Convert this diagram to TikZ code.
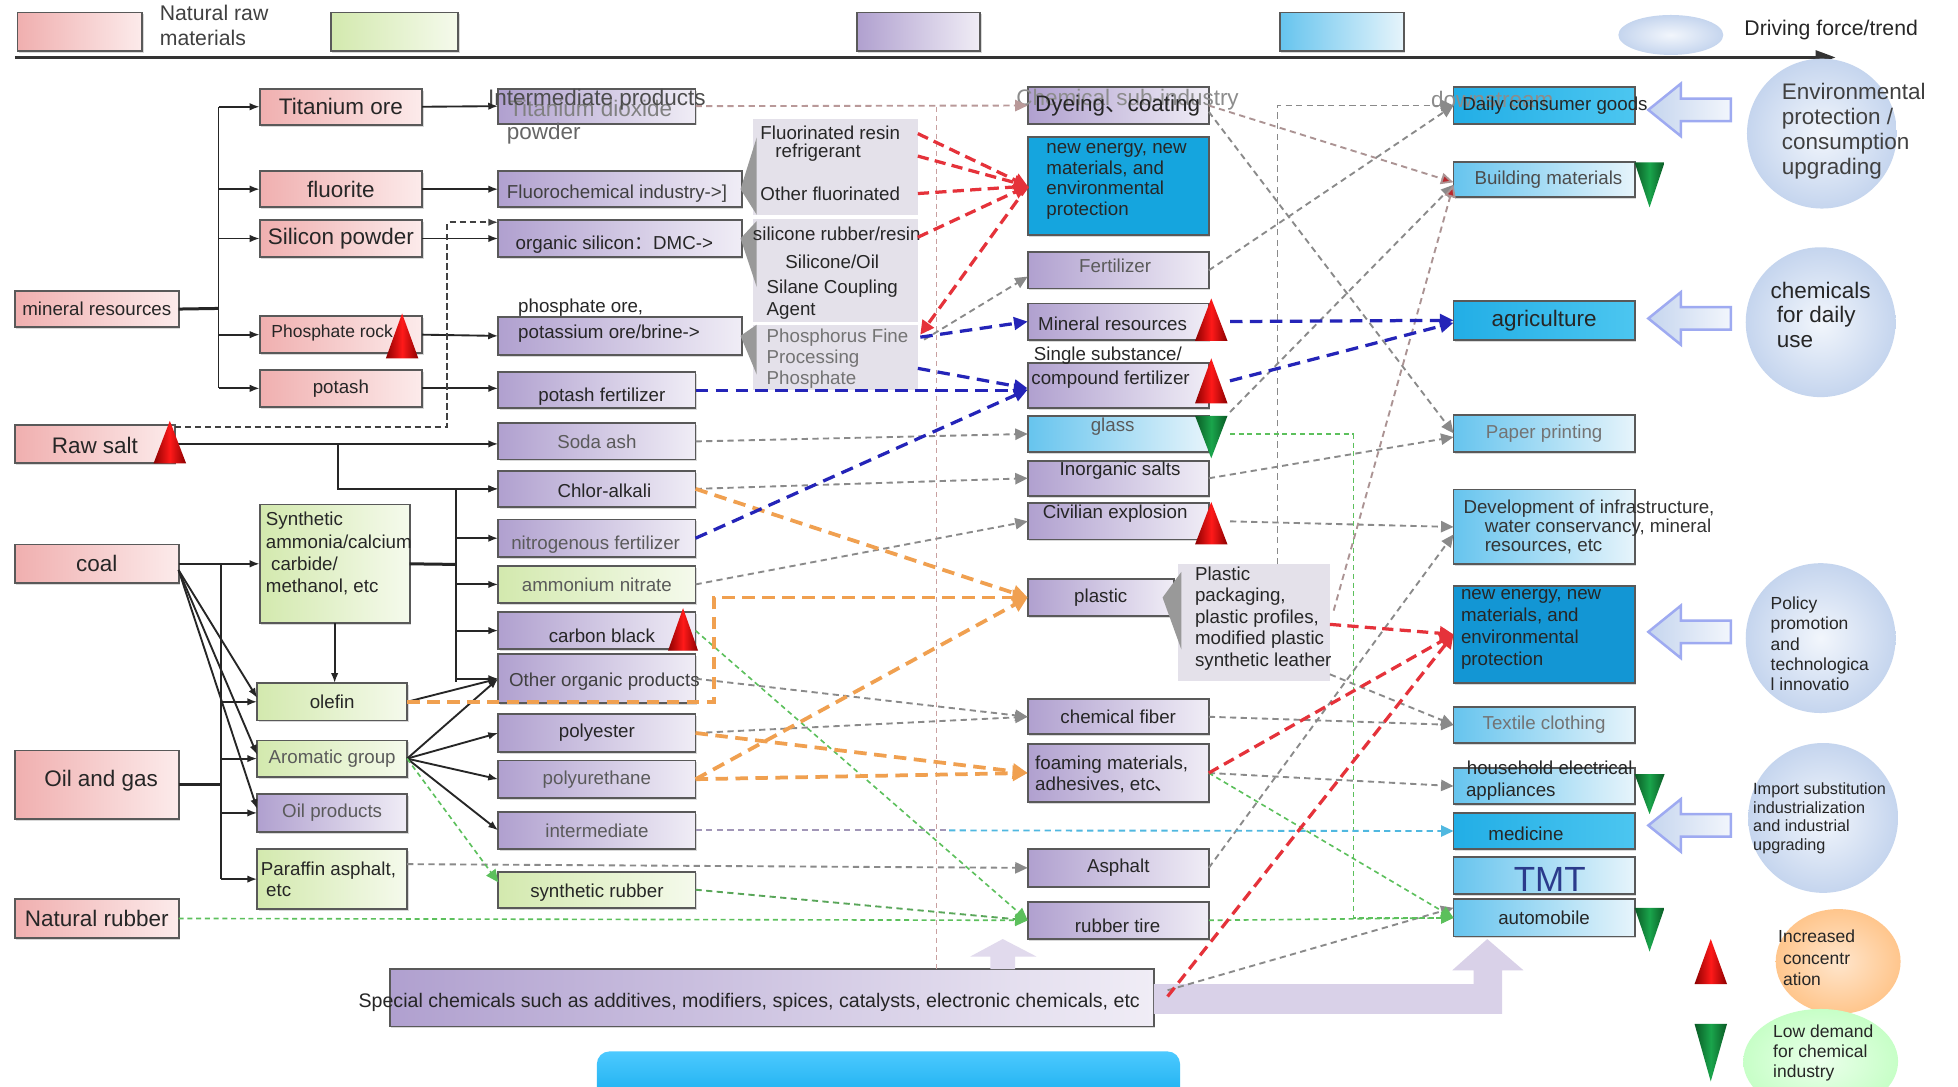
\documentclass[tikz,border=0pt]{standalone}
\usepackage{fontspec}
\setmainfont{Liberation Sans}
\newfontfamily\cjk{Noto Sans CJK SC}
\usetikzlibrary{arrows.meta,shadows,calc,shapes.geometric}
\definecolor{pinkL}{HTML}{F0AFAF}
\definecolor{pinkR}{HTML}{FCEBEB}
\definecolor{greenL}{HTML}{D3E9AE}
\definecolor{greenR}{HTML}{F5FAEC}
\definecolor{purpL}{HTML}{B0A0CF}
\definecolor{purpR}{HTML}{F0EDF6}
\definecolor{lblueL}{HTML}{66C4EE}
\definecolor{lblueR}{HTML}{E6F4FB}
\definecolor{bblueL}{HTML}{22AEE6}
\definecolor{bblueR}{HTML}{4CC6F0}
\definecolor{neA}{HTML}{15A5DE}
\definecolor{neB}{HTML}{1396D4}
\definecolor{callF}{HTML}{E4E1EA}
\definecolor{txt}{HTML}{262626}
\definecolor{txtg}{HTML}{5A5A5A}
\definecolor{gdashc}{HTML}{8A8A8A}
\definecolor{rdashc}{HTML}{E5323A}
\definecolor{bdashc}{HTML}{2424B8}
\definecolor{odashc}{HTML}{F0A050}
\definecolor{grdashc}{HTML}{5CC05C}
\definecolor{pkdashc}{HTML}{C8A0A0}
\definecolor{cyandc}{HTML}{50B8E0}
\definecolor{lav}{HTML}{D9D1E8}
\definecolor{circA}{HTML}{F2F6FC}
\definecolor{circB}{HTML}{C5D5EE}
\definecolor{gDark}{HTML}{0A5A25}
\definecolor{gMid}{HTML}{1AA54C}
\definecolor{tmtc}{HTML}{2B3B8C}
\newcommand\mkbox[7]{\node[#6, minimum width={#4pt-#2pt}, minimum height={#5pt-#3pt}] (#1) at ({(#2+#4)/2},{(#3+#5)/2}) {#7};}
\newcommand\rtri[4]{\shade[left color=red!55!black, right color=red!55!black, middle color=red!90!white] (#1,#2) -- ({#1-#4},#3) -- ({#1+#4},#3) -- cycle;}
\newcommand\gtri[4]{\shade[left color=gDark, right color=gDark, middle color=gMid] ({#1-#4},#2) -- ({#1+#4},#2) -- (#1,#3) -- cycle;}
\newcommand\harrow[1]{\shade[left color=circB, right color=circA, draw=circB!80!blue, line width=2pt] (1320,#1) -- (1346,{#1-21}) -- (1346,{#1-9}) -- (1386,{#1-9}) -- (1386,{#1+9}) -- (1346,{#1+9}) -- (1346,{#1+21}) -- cycle;}
\tikzset{
 f13/.style={font=\fontsize{13pt}{14pt}\selectfont},
 f14/.style={font=\fontsize{14pt}{16pt}\selectfont},
 f15/.style={font=\fontsize{15pt}{17pt}\selectfont},
 f17/.style={font=\fontsize{17pt}{20pt}\selectfont},
 f18/.style={font=\fontsize{18pt}{20pt}\selectfont},
 tx/.style={inner sep=0pt, outer sep=0pt, text=txt},
 base/.style={draw=black!65, line width=1.5pt, inner sep=0pt, outer sep=0pt, text=txt,
   drop shadow={shadow xshift=1.2pt, shadow yshift=-1.5pt, opacity=.3}},
 pinkb/.style={base, left color=pinkL, right color=pinkR},
 greenb/.style={base, left color=greenL, right color=greenR},
 purpb/.style={base, left color=purpL, right color=purpR},
 lblueb/.style={base, left color=lblueL, right color=lblueR},
 bblueb/.style={base, left color=bblueL, right color=bblueR},
 ne1b/.style={base, fill=neA},
 ne2b/.style={base, fill=neB},
 callb/.style={fill=callF, draw=none, inner sep=0pt, outer sep=0pt},
 ptr/.style={fill=black!40},
 blk/.style={draw=black!85, line width=1.5pt},
 blka/.style={blk, -{Latex[length=8pt,width=6pt]}},
 gd/.style={draw=gdashc, line width=1.5pt, dash pattern=on 5pt off 3.5pt, -{Triangle[length=10pt,width=9pt]}},
 rd/.style={draw=rdashc, line width=2.6pt, dash pattern=on 9pt off 5pt, -{Triangle[length=11pt,width=11pt]}},
 bd/.style={draw=bdashc, line width=2.6pt, dash pattern=on 10pt off 6pt, -{Triangle[length=11pt,width=10pt]}},
 od/.style={draw=odashc, line width=3pt, dash pattern=on 10pt off 6pt, -{Triangle[length=12pt,width=12pt]}},
 grd/.style={draw=grdashc, line width=1.3pt, dash pattern=on 4pt off 3pt, -{Triangle[length=10pt,width=9pt]}},
}
\begin{document}
\begin{tikzpicture}[x=1pt,y=-1pt]
\useasboundingbox[fill=white] (0,0) rectangle (1568,870);
% ---------- legend ----------
\mkbox{lgA}{14}{10}{114}{41}{pinkb}{}
\node[tx,f17,anchor=north west,align=left,text=black!75] (lgAt) at (128,4) {Natural raw\\materials};
\mkbox{lgB}{265}{10}{367}{41}{greenb}{}
\mkbox{lgC}{686}{10}{785}{41}{purpb}{}
\mkbox{lgD}{1025}{10}{1124}{41}{lblueb}{}
\node[ellipse, inner color=circA, outer color=circB, minimum width=84pt, minimum height=32pt] (lgE) at (1338,28) {};
\node[tx,f17,anchor=west] (lgEt) at (1397,24) {Driving force/trend};
\coordinate (axL) at (12,46); \coordinate (axR) at (1470,46);
\draw[line width=2.5pt, black!80, -{Triangle[length=16pt,width=11pt]}] (axL) -- (axR);
% ---------- circles ----------
\shade[inner color=circA, outer color=circB] (1459,107) circle (60pt);
\shade[inner color=circA, outer color=circB] (1458,258) circle (60pt);
\shade[inner color=circA, outer color=circB] (1458,511) circle (60pt);
\shade[inner color=circA, outer color=circB] (1460,655) circle (60pt);
\shade[inner color=orange!20, outer color=orange!45] (1472,770) ellipse [x radius=50pt, y radius=42pt];
\shade[inner color=green!8, outer color=green!22] (1458,850) ellipse [x radius=62pt, y radius=42pt];
\node[tx,anchor=north west,align=left,text=black!75,font=\fontsize{18pt}{19.8pt}\selectfont] (e1T) at (1427,67) {Environmental\\protection /\\consumption\\upgrading};
\node[tx,anchor=north west,align=left,font=\fontsize{18pt}{19.5pt}\selectfont] (e2T) at (1418,226) {chemicals\\\ for daily\\\ use};
\node[tx,anchor=north west,align=left,font=\fontsize{14pt}{16.3pt}\selectfont] (e3T) at (1418,478) {Policy\\promotion\\and\\technologica\\l innovatio};
\node[tx,anchor=north west,align=left,font=\fontsize{13pt}{14.8pt}\selectfont] (e4T) at (1404,627) {Import substitution\\industrialization\\and industrial\\upgrading};
\node[tx,anchor=north west,align=left,font=\fontsize{14pt}{17pt}\selectfont] (e5T) at (1424,745) {Increased\\\ concentr\\\ ation};
\node[tx,anchor=north west,align=left,font=\fontsize{14pt}{16pt}\selectfont] (e6T) at (1420,821) {Low demand\\for chemical\\industry};
\harrow{88}\harrow{255}\harrow{506}\harrow{661}
% ---------- column 1 ----------
\mkbox{mr}{12}{233}{143}{262}{pinkb,f15}{mineral resources}
\mkbox{rs}{12}{340}{140}{371}{pinkb}{}
\node[tx,f18] (rsT) at (76,357) {Raw salt};
\mkbox{coal}{12}{436}{143}{467}{pinkb,f18}{coal}
\mkbox{og}{12}{601}{143}{656}{pinkb}{}
\node[tx,f18] (ogT) at (81,625) {Oil and gas};
\mkbox{nr}{12}{720}{143}{751}{pinkb,f18}{Natural rubber}
% ---------- column 2 ----------
\mkbox{ti}{208}{71}{338}{100}{pinkb,f18}{Titanium ore}
\mkbox{fl}{208}{137}{338}{166}{pinkb,f18}{fluorite}
\mkbox{si}{208}{176}{338}{206}{pinkb,f18}{Silicon powder}
\mkbox{ph}{208}{253}{338}{283}{pinkb}{}
\node[tx,f14] (phT) at (266,267) {Phosphate rock};
\mkbox{pt}{208}{296}{338}{326}{pinkb,f15}{potash}
\mkbox{sy}{208}{404}{328}{499}{greenb}{}
\node[tx,anchor=north west,align=left,font=\fontsize{15pt}{18pt}\selectfont] (syT) at (213,410) {Synthetic\\ammonia/calcium\\\ carbide/\\methanol, etc};
\mkbox{ol}{206}{547}{326}{577}{greenb,f15}{olefin}
\mkbox{ar}{206}{593}{326}{622}{greenb,f15,text=txtg}{Aromatic group}
\mkbox{op}{206}{636}{326}{666}{purpb,f15,text=txtg}{Oil products}
\mkbox{pa}{206}{680}{326}{728}{greenb}{}
\node[tx,anchor=north west,align=left,font=\fontsize{15pt}{17pt}\selectfont] (paT) at (209,690) {Paraffin asphalt,\\\ etc};
% ---------- column 3 ----------
\mkbox{td}{399}{71}{557}{99}{purpb}{}
\node[tx,f18,text=black!50] (tdT) at (473,87) {Titanium dioxide};
\node[tx,f18,text=black!70] (tdI) at (478,80) {Intermediate products};
\node[tx,f18,text=black!60,anchor=west] (tdP) at (406,107) {powder};
\mkbox{fc}{399}{137}{594}{166}{purpb}{}
\node[tx,f15,anchor=west,text=black!75] (fcT) at (406,155) {Fluorochemical industry->]};
\mkbox{os}{399}{176}{594}{206}{purpb}{}
\node[tx,f15,anchor=west] (osT) at (413,196) {organic silicon{\cjk ：}DMC->};
\mkbox{pp}{399}{254}{594}{284}{purpb}{}
\node[tx,f15,anchor=west] (ppT) at (415,267) {potassium ore/brine->};
\node[tx,f15,anchor=west] (ppA) at (415,246) {phosphate ore,};
\mkbox{pf}{399}{298}{557}{327}{purpb}{}
\node[tx,f15] (pfT) at (482,318) {potash fertilizer};
\mkbox{sa}{399}{339}{557}{368}{purpb,f15,text=txtg}{Soda ash}
\mkbox{ca}{399}{377}{557}{406}{purpb}{}
\node[tx,f15] (caT) at (484,393) {Chlor-alkali};
\mkbox{nf}{399}{416}{557}{446}{purpb}{}
\node[tx,f15,text=txtg] (nfT) at (477,436) {nitrogenous fertilizer};
\mkbox{an}{399}{453}{557}{483}{greenb,f15,text=txtg}{ammonium nitrate}
\mkbox{cb}{399}{490}{557}{520}{purpb}{}
\node[tx,f15] (cbT) at (482,509) {carbon black};
\mkbox{oo}{399}{524}{557}{563}{purpb}{}
\node[tx,f15,text=black!75] (ooT) at (484,546) {Other organic products};
\mkbox{pe}{399}{572}{557}{602}{purpb,f15}{polyester}
\mkbox{pu}{399}{609}{557}{639}{purpb,f15,text=txtg}{polyurethane}
\mkbox{im}{399}{650}{557}{680}{purpb,f15,text=txtg}{intermediate}
\mkbox{sr}{399}{698}{557}{727}{greenb}{}
\node[tx,f15] (srT) at (478,715) {synthetic rubber};
% ---------- callouts ----------
\mkbox{c1}{603}{95}{735}{172}{callb}{}
\fill[ptr] ($(c1.north west)+(3,15)$) -- ($(fc.east)+(-1,0)$) -- ($(c1.south west)+(3,0)$) -- cycle;
\node[tx,f15,anchor=west] (c1a) at (609,106) {Fluorinated resin};
\node[tx,f15,anchor=west] (c1b) at (621,122) {refrigerant};
\node[tx,f15,anchor=west] (c1c) at (609,155) {Other fluorinated};
\mkbox{c2}{603}{175}{735}{258}{callb}{}
\fill[ptr] ($(c2.north west)+(3,2)$) -- ($(os.east)+(-1,0)$) -- ($(c2.north west)+(3,55)$) -- cycle;
\node[tx,f15,anchor=west] (c2a) at (603,187) {silicone rubber/resin};
\node[tx,f15,anchor=west] (c2b) at (629,210) {Silicone/Oil};
\node[tx,f15,anchor=west] (c2c) at (614,231) {Silane Coupling};
\node[tx,f15,anchor=west] (c2d) at (614,249) {Agent};
\mkbox{c3}{603}{260}{735}{312}{callb}{}
\fill[ptr] ($(c3.north west)+(3,0)$) -- ($(pp.east)+(-1,0)$) -- ($(c3.north west)+(3,40)$) -- cycle;
\node[tx,f15,anchor=west,text=black!55] (c3a) at (614,270) {Phosphorus Fine};
\node[tx,f15,anchor=west,text=black!55] (c3b) at (614,287) {Processing};
\node[tx,f15,anchor=west,text=black!55] (c3c) at (614,304) {Phosphate};
% ---------- column 4 ----------
\mkbox{dy}{823}{70}{968}{99}{purpb}{}
\node[tx,f18,text=black!45] (dyG) at (903,80) {Chemical sub-industry};
\node[tx,f18] (dyT) at (895,85) {Dyeing{\cjk 、}coating};
\mkbox{ne1}{823}{110}{968}{188}{ne1b}{}
\node[tx,anchor=north west,align=left,font=\fontsize{15pt}{16.5pt}\selectfont] (ne1T) at (838,115) {new energy, new\\materials, and\\environmental\\protection};
\mkbox{fe}{823}{202}{968}{231}{purpb}{}
\node[tx,f15,text=txtg] (feT) at (893,213) {Fertilizer};
\mkbox{mi}{823}{243}{968}{272}{purpb}{}
\node[tx,f15] (miT) at (891,259) {Mineral resources};
\mkbox{cf}{823}{291}{968}{327}{purpb}{}
\node[tx,f15,anchor=west] (cfT) at (826,304) {compound fertilizer};
\node[tx,f15,anchor=west] (cfA) at (828,285) {Single substance/};
\mkbox{gl}{823}{333}{968}{362}{lblueb}{}
\node[tx,f15,text=txtg] (glT) at (891,342) {glass};
\mkbox{is}{823}{369}{968}{397}{purpb}{}
\node[tx,f15] (isT) at (897,377) {Inorganic salts};
\mkbox{ce}{823}{403}{968}{432}{purpb}{}
\node[tx,f15] (ceT) at (893,411) {Civilian explosion};
\mkbox{pl}{823}{464}{940}{493}{purpb,f15}{plastic}
\mkbox{c4}{943}{452}{1065}{545}{callb}{}
\fill[ptr] ($(c4.north west)+(3,6)$) -- ($(pl.east)+(-9,0)$) -- ($(c4.north west)+(3,68)$) -- cycle;
\node[tx,anchor=north west,align=left,font=\fontsize{15pt}{17.2pt}\selectfont] (c4T) at (957,454) {Plastic\\packaging,\\plastic profiles,\\modified plastic\\synthetic leather};
\mkbox{cfb}{823}{560}{968}{588}{purpb,f15}{chemical fiber}
\mkbox{fo}{823}{596}{968}{642}{purpb}{}
\node[tx,anchor=north west,align=left,font=\fontsize{15pt}{17pt}\selectfont] (foT) at (829,605) {foaming materials,\\adhesives, etc{\cjk 、}};
\mkbox{as}{823}{680}{968}{710}{purpb,f15}{Asphalt}
\mkbox{rt}{823}{722}{968}{752}{purpb}{}
\node[tx,f15] (rtT) at (895,741) {rubber tire};
% ---------- column 5 ----------
\mkbox{dc}{1164}{70}{1309}{99}{bblueb}{}
\node[tx,f18,text=black!45] (dcG) at (1195,80) {downstream};
\node[tx,f15,anchor=west] (dcT) at (1171,85) {Daily consumer goods};
\mkbox{bm}{1164}{130}{1309}{158}{lblueb}{}
\node[tx,f15,text=black!70] (bmT) at (1240,144) {Building materials};
\mkbox{ag}{1164}{241}{1309}{272}{bblueb,f18}{agriculture}
\mkbox{pr}{1164}{332}{1309}{362}{lblueb,f15,text=black!55}{Paper printing}
\mkbox{di}{1164}{392}{1309}{452}{lblueb}{}
\node[tx,anchor=north west,align=left,font=\fontsize{15pt}{15.5pt}\selectfont,text=black!80] (diT) at (1172,400) {Development of infrastructure,\\\hspace*{17pt}water conservancy, mineral\\\hspace*{17pt}resources, etc};
\mkbox{ne2}{1164}{469}{1309}{547}{ne2b}{}
\node[tx,anchor=north west,align=left,font=\fontsize{15pt}{17.5pt}\selectfont] (ne2T) at (1170,472) {new energy, new\\materials, and\\environmental\\protection};
\mkbox{tc}{1164}{566}{1309}{595}{lblueb,f15,text=black!55}{Textile clothing}
\mkbox{ha}{1164}{615}{1309}{644}{lblueb}{}
\node[tx,f15] (haA) at (1241,615) {household electrical};
\node[tx,f15,anchor=west] (haT) at (1174,634) {appliances};
\mkbox{me}{1164}{651}{1309}{680}{bblueb}{}
\node[tx,f15] (meT) at (1222,668) {medicine};
\mkbox{tm}{1164}{686}{1309}{716}{lblueb}{}
\node[tx,font=\fontsize{28pt}{30pt}\selectfont,text=tmtc] (tmT) at (1241,704) {TMT};
\mkbox{au}{1164}{720}{1309}{750}{lblueb,f15}{automobile}
% ---------- special chemicals ----------
\mkbox{sc}{312}{776}{924}{822}{purpb}{}
\node[tx,font=\fontsize{15.7pt}{17pt}\selectfont] (scT) at (600,803) {Special chemicals such as additives, modifiers, spices, catalysts, electronic chemicals, etc};
\fill[lav] (924,788) -- (1180,788) -- (1180,777) -- (1163,777) -- (1191,752) -- (1220,777) -- (1203,777) -- (1203,812) -- (924,812) -- cycle;
\fill[lav!80] (793,776) -- (793,766) -- (777,766) -- (803,752) -- (830,766) -- (813,766) -- (813,776) -- cycle;
\shade[top color=cyan!70!blue!70, bottom color=blue!30!cyan!90!black, rounded corners=10pt] (478,842) rectangle (945,900);
% ---------- black connectors ----------
\coordinate (mrB) at (175,247); \coordinate (mrBt) at (175,86); \coordinate (mrBb) at (175,311);
\draw[blk, line width=2.4pt] (mr.east) -- (mrB);
\draw[blk] (mrBt) -- (mrBb);
\foreach \n in {ti,fl,si,ph,pt} \draw[blka] (mrBt |- \n.west) -- (\n.west);
\draw[blka] (ti.east) -- (td.west);
\draw[blka] (fl.east) -- (fc.west);
\draw[blka] (si.east) -- (os.west);
\draw[blka] (ph.east) -- (pp.west);
\draw[blka] (pt.east) -- (pt.east -| pf.west);
\draw[draw=black!75, line width=1.5pt, dash pattern=on 5pt off 3pt, -{Latex[length=8pt,width=6pt]}] ([yshift=-2pt]rs.north east) -- ++(218,0) |- ([yshift=-2pt]os.north west);
\coordinate (rsB) at (271,355.5);
\draw[blka] (rs.east) -- (rs.east -| sa.west);
\draw[blka] (rsB) |- (ca.west);
\coordinate (coB) at (177,452); \coordinate (coBb) at (177,704);
\draw[blka] (coal.east) -- (sy.west);
\draw[blk] (coB) -- (coBb);
\foreach \n in {ol,ar,op,pa} \draw[blka] (coB |- \n.west) -- (\n.west);
\draw[blk, line width=2.4pt] (og.east) -- (coB |- og.east);
\foreach \n in {ol,ar,op} \draw[blka] ($(coal.east)+(0,5)$) -- ($(\n.west)+(0,-3)$);
\coordinate (syB) at (365,452); \coordinate (syBt) at (365,391); \coordinate (syBb) at (365,546);
\draw[blk, line width=2.4pt] (sy.east) -- (syB);
\draw[blk] (syBt) -- (syBb);
\foreach \n in {ca,nf,an,cb,oo} \draw[blka] (syBt |- \n.west) -- (\n.west);
\draw[blka] (sy.south) -- (sy.south |- ol.north);
\draw[blka] (ol.east) -- (oo.west);
\foreach \n in {oo,pe,pu,im} \draw[blka] (ar.east) -- (\n.west);
% ---------- pink guide ----------
\coordinate (vp1) at (750,86); \coordinate (vp2) at (750,776);
\draw[draw=pkdashc, line width=1pt, dash pattern=on 4pt off 3pt] (vp1) -- (vp2);
% ---------- gray dashed ----------
\draw[gd, draw=pkdashc!80!gray] (td.east) -- (dy.west);
\draw[gd] (sa.east) -- (gl.west);
\draw[gd] (ca.east) -- (is.west);
\draw[gd] (an.east) -- (ce.west);
\draw[gd] ($(c3.north east)+(5,12)$) -- ($(fe.west)+(0,5)$);
\draw[gd] (oo.east) -- (cfb.west);
\draw[gd] (pe.east) -- (cfb.west);
\draw[gd] ($(pa.north east)+(0,12)$) -- (as.west);
\draw[gd, draw=gray!70!green] (sr.east) -- (rt.west);
\draw[gd, draw=pkdashc!60!gray, -{Triangle[length=10pt,width=9pt,fill=rdashc!80!black]}] (dy.east) -- ($(bm.west)+(0,2)$);
\draw[gd] ($(dy.east)+(0,5)$) -- (pr.west);
\draw[gd] (fe.east) -- (dc.west);
\draw[gd] ($(gl.north east)+(17,-3)$) -- ($(bm.west)+(0,4)$);
\draw[gd] (is.east) -- ($(pr.west)+(0,3)$);
\draw[gd] ($(ce.east)+(17,0)$) -- (di.west);
\coordinate (busB) at (1023,452);
\draw[gd] (busB) |- (dc.west);
\draw[gd, draw=pkdashc!60!gray, -{Triangle[length=10pt,width=9pt,fill=rdashc!80!black]}] ($(c4.north east)+(3,37)$) -- ($(bm.west)+(0,4)$);
\draw[gd] ($(c4.south east)+(0,-5)$) -- (tc.west);
\draw[gd] (cfb.east) -- (tc.west);
\draw[gd] (fo.east) -- (ha.west);
\draw[gd] (as.east) -- ($(di.west)+(0,6)$);
\draw[gd] ($(sc.north east)+(11,17)$) -- ($(au.west)+(0,-8)$);
% ---------- green dashed ----------
\draw[grd] (nr.east) -- (rt.west);
\draw[grd] (ar.east) -- ($(sr.west)+(0,-6)$);
\draw[grd] (cb.east) -- (rt.west);
\draw[grd] (fo.east) -- (au.west);
\coordinate (glB) at (1084,347.5);
\draw[grd, -] ($(gl.east)+(17,0)$) -- (glB);
\draw[grd] (glB) |- (au.west);
\draw[grd] (rt.east) -- (au.west);
% ---------- intermediate -> medicine ----------
\coordinate (imB) at (760,665);
\draw[gd, draw=purpL!70!gray, -] (im.east) -- (imB);
\draw[gd, draw=cyandc, -{Triangle[length=10pt,width=9pt]}] (imB) -- (me.west);
% ---------- orange ----------
\coordinate (olB) at (572,562);
\draw[od] (ca.east) -- (pl.west);
\draw[od] (ol.east) -- (olB) |- (pl.west);
\draw[od] (pe.east) -- (fo.west);
\draw[od] (pu.east) -- (fo.west);
\draw[od] (pu.east) -- (pl.west);
% ---------- blue ----------
\draw[bd] ($(c3.north east)+(2,10)$) -- (mi.west);
\draw[bd] (pf.east) -- (pf.east -| cf.west);
\draw[bd] ($(c3.north east)+(0,35)$) -- ($(cf.west)+(0,2)$);
\draw[bd] (nf.east) -- ($(cf.west)+(0,3)$);
\draw[bd] ($(mi.east)+(17,0)$) -- (ag.west);
\draw[bd] ($(cf.east)+(17,-4)$) -- ($(ag.west)+(0,2)$);
% ---------- red ----------
\draw[rd] ($(c1.north east)+(0,12)$) -- (ne1.west);
\draw[rd] ($(c1.north east)+(0,30)$) -- (ne1.west);
\draw[rd] ($(c1.north east)+(0,60)$) -- (ne1.west);
\draw[rd] ($(c2.north east)+(0,15)$) -- (ne1.west);
\draw[rd] (ne1.west) -- ($(c3.north east)+(2,8)$);
\draw[rd] ($(c4.north east)+(0,48)$) -- (ne2.west);
\draw[rd] (fo.east) -- (ne2.west);
\draw[rd] ($(sc.north east)+(11,22)$) -- (ne2.west);
% ---------- triangles ----------
\rtri{136}{337}{371}{13}
\rtri{322}{251}{287}{13}
\rtri{547}{487}{521}{12}
\rtri{970}{239}{273}{13}
\rtri{970}{287}{323}{13}
\rtri{970}{402}{436}{13}
\rtri{1370}{752}{788}{13}
\gtri{970}{333}{367}{13}
\gtri{1321}{130}{166}{12}
\gtri{1321}{620}{652}{12}
\gtri{1321}{727}{762}{12}
\gtri{1370}{820}{866}{13}
\end{tikzpicture}
\end{document}
